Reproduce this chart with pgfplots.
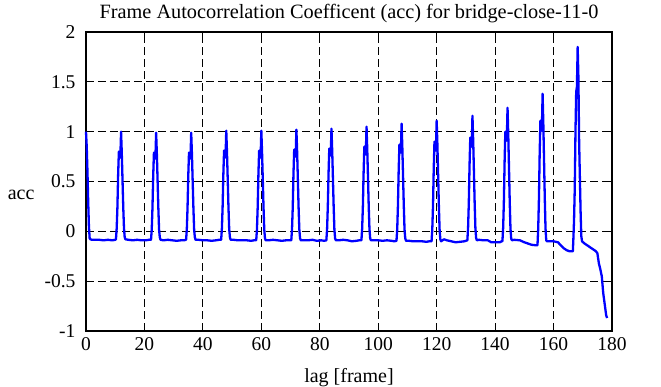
\documentclass[border=0pt]{standalone}
\usepackage{fontspec}
\setmainfont{Liberation Serif}
\usepackage{pgfplots}
\pgfplotsset{compat=1.18}
\begin{document}
\fontsize{19}{22}\selectfont
\begin{tikzpicture}
\begin{axis}[
 name=ax,
 scale only axis, width=526pt, height=299pt,
 xmin=0, xmax=180, ymin=-1, ymax=2,
 xtick={0,20,40,60,80,100,120,140,160,180},
 xticklabels={0,20,40,60,80,100,120,140,160,180},
 ytick={-1,-0.5,0,0.5,1,1.5,2},
 yticklabels={-1,-0.5,0,0.5,1,1.5,2},
 tick align=inside, major tick length=7pt,
 grid=major,
 major grid style={black, line width=0.8pt, dash pattern=on 8pt off 4pt},
 axis line style={black, line width=1.6pt},
 tick style={black, line width=1.2pt},
 tick label style={font=\fontsize{19.5}{22}\selectfont},
 yticklabel style={xshift=-4pt},
 xticklabel style={yshift=0pt},
 title={Frame Autocorrelation Coefficent (acc) for bridge-close-11-0},
 title style={font=\fontsize{20.3}{23}\selectfont, yshift=-3pt},
 xlabel={lag [frame]},
 xlabel style={font=\fontsize{20}{22}\selectfont, yshift=-5pt},
 ylabel={acc},
 ylabel style={font=\fontsize{20}{22}\selectfont, rotate=-90, at={(rel axis cs:0,0.5)}, anchor=east, xshift=-45pt, yshift=-13pt},
 clip=false,
]
\addplot[color={rgb,255:red,0;green,0;blue,255}, line width=2.3pt, line join=round] coordinates {
(0,1.0) (0.25,0.85) (0.5,0.6) (0.75,0.3) (1,0.05) (1.25,-0.07) (1.5,-0.08) (2,-0.085) (3,-0.085) (4.5,-0.085) (6,-0.09) (7.5,-0.085) (9,-0.09) (10,-0.085)
(10.25,-0.08) (10.5,0.03) (10.75,0.24) (11,0.57) (11.25,0.80) (11.5,0.76) (11.75,0.74) (12,1.00) (12.25,0.78) (12.5,0.51) (12.75,0.24) (13,0.03) (13.25,-0.06) (13.5,-0.08)
(14.5,-0.085) (16,-0.09) (17.5,-0.085) (19,-0.09) (20.5,-0.09) (21.5,-0.085)
(22.25,-0.085) (22.5,0.02) (22.75,0.24) (23,0.56) (23.25,0.79) (23.5,0.75) (23.75,0.73) (24,0.99) (24.25,0.775) (24.5,0.51) (24.75,0.24) (25,0.02) (25.25,-0.06) (25.5,-0.085)
(26.5,-0.09) (28,-0.085) (29.5,-0.09) (31,-0.095) (32.5,-0.09) (33.5,-0.09)
(34.25,-0.085) (34.5,0.02) (34.75,0.24) (35,0.56) (35.25,0.79) (35.5,0.75) (35.75,0.73) (36,0.99) (36.25,0.775) (36.5,0.51) (36.75,0.24) (37,0.02) (37.25,-0.06) (37.5,-0.085)
(38.5,-0.085) (40,-0.09) (41.5,-0.09) (43,-0.095) (44.5,-0.09) (45.5,-0.085)
(46.25,-0.085) (46.5,0.025) (46.75,0.245) (47,0.57) (47.25,0.81) (47.5,0.77) (47.75,0.74) (48,1.01) (48.25,0.79) (48.5,0.52) (48.75,0.245) (49,0.025) (49.25,-0.06) (49.5,-0.085)
(50.5,-0.085) (52,-0.09) (53.5,-0.09) (55,-0.09) (56.5,-0.095) (57.5,-0.09)
(58.25,-0.09) (58.5,0.02) (58.75,0.24) (59,0.57) (59.25,0.81) (59.5,0.77) (59.75,0.74) (60,1.01) (60.25,0.79) (60.5,0.515) (60.75,0.24) (61,0.02) (61.25,-0.07) (61.5,-0.09)
(62.5,-0.09) (64,-0.085) (65.5,-0.09) (67,-0.095) (68.5,-0.09) (69.5,-0.09)
(70.25,-0.09) (70.5,0.02) (70.75,0.24) (71,0.58) (71.25,0.82) (71.5,0.78) (71.75,0.75) (72,1.02) (72.25,0.8) (72.5,0.52) (72.75,0.24) (73,0.02) (73.25,-0.07) (73.5,-0.09)
(74.5,-0.09) (76,-0.09) (77.5,-0.085) (79,-0.095) (80.5,-0.09) (81.5,-0.095)
(82.25,-0.09) (82.5,0.02) (82.75,0.25) (83,0.58) (83.25,0.83) (83.5,0.79) (83.75,0.76) (84,1.03) (84.25,0.81) (84.5,0.53) (84.75,0.25) (85,0.02) (85.25,-0.07) (85.5,-0.09)
(86.5,-0.09) (88,-0.085) (89.5,-0.09) (91,-0.1) (92.5,-0.095) (93.5,-0.09)
(94.25,-0.09) (94.5,0.025) (94.75,0.25) (95,0.59) (95.25,0.85) (95.5,0.80) (95.75,0.77) (96,1.05) (96.25,0.82) (96.5,0.54) (96.75,0.25) (97,0.025) (97.25,-0.07) (97.5,-0.09)
(98.5,-0.09) (100,-0.09) (101.5,-0.095) (103,-0.09) (104.5,-0.095) (105.5,-0.1)
(106.25,-0.095) (106.5,0.02) (106.75,0.26) (107,0.61) (107.25,0.87) (107.5,0.82) (107.75,0.79) (108,1.08) (108.25,0.845) (108.5,0.55) (108.75,0.26) (109,0.02) (109.25,-0.07) (109.5,-0.095)
(110.5,-0.095) (112,-0.1) (113.5,-0.1) (115,-0.1) (116.5,-0.105) (117.5,-0.1)
(118.25,-0.1) (118.5,0.02) (118.75,0.26) (119,0.63) (119.25,0.90) (119.5,0.85) (119.75,0.81) (120,1.11) (120.25,0.87) (120.5,0.565) (120.75,0.26) (121,0.02) (121.25,-0.08) (121.5,-0.1)
(122.5,-0.08) (123.5,-0.09) (125,-0.1) (126.5,-0.11) (128,-0.105) (129.5,-0.1)
(130.5,-0.09) (130.75,0.035) (131,0.285) (131.25,0.66) (131.5,0.94) (131.75,0.89) (132,0.85) (132.25,1.16) (132.5,0.91) (132.75,0.6) (133,0.285) (133.25,0.035) (133.5,-0.065) (133.75,-0.09)
(134.5,-0.085) (136,-0.09) (137.5,-0.09) (138.7,-0.11) (140,-0.11) (141.6,-0.11) (142.2,-0.1)
(142.5,-0.1) (142.75,0.034) (143,0.30) (143.25,0.70) (143.5,1.0) (143.75,0.95) (144,0.91) (144.25,1.24) (144.5,0.97) (144.75,0.64) (145,0.30) (145.25,0.034) (145.5,-0.073) (145.75,-0.09)
(146.5,-0.085) (148.5,-0.09) (150,-0.11) (151,-0.12) (152.5,-0.135) (154,-0.14)
(154.5,-0.14) (154.75,0.03) (155,0.33) (155.25,0.78) (155.5,1.11) (155.75,1.06) (156,1.01) (156.25,1.38) (156.5,1.08) (156.75,0.705) (157,0.33) (157.25,0.03) (157.5,-0.09) (157.75,-0.1)
(159,-0.1) (160,-0.1) (161.5,-0.11) (162.5,-0.14) (163.5,-0.17) (164.5,-0.19) (165.5,-0.2) (166.4,-0.2)
(166.6,-0.2) (166.75,-0.1) (167,0.1) (167.25,0.42) (167.5,1.0) (167.75,1.4) (168,1.45) (168.25,1.85) (168.5,1.55) (168.75,0.9) (169,0.55) (169.25,0.2) (169.5,-0.05) (169.75,-0.1)
(170.5,-0.12) (171.5,-0.14) (172.5,-0.16) (173.5,-0.18) (174.5,-0.2) (175,-0.22) (175.5,-0.32) (176,-0.38) (176.5,-0.45) (177,-0.62) (177.5,-0.73) (178,-0.84) (178.3,-0.87)
};
\end{axis}
\path (ax.south west) ++(-86pt,-56pt) coordinate (bl);
\path (ax.north east) ++(49pt,32pt) coordinate (tr);
\pgfresetboundingbox
\path[use as bounding box] (bl) rectangle (tr);
\end{tikzpicture}
\end{document}
